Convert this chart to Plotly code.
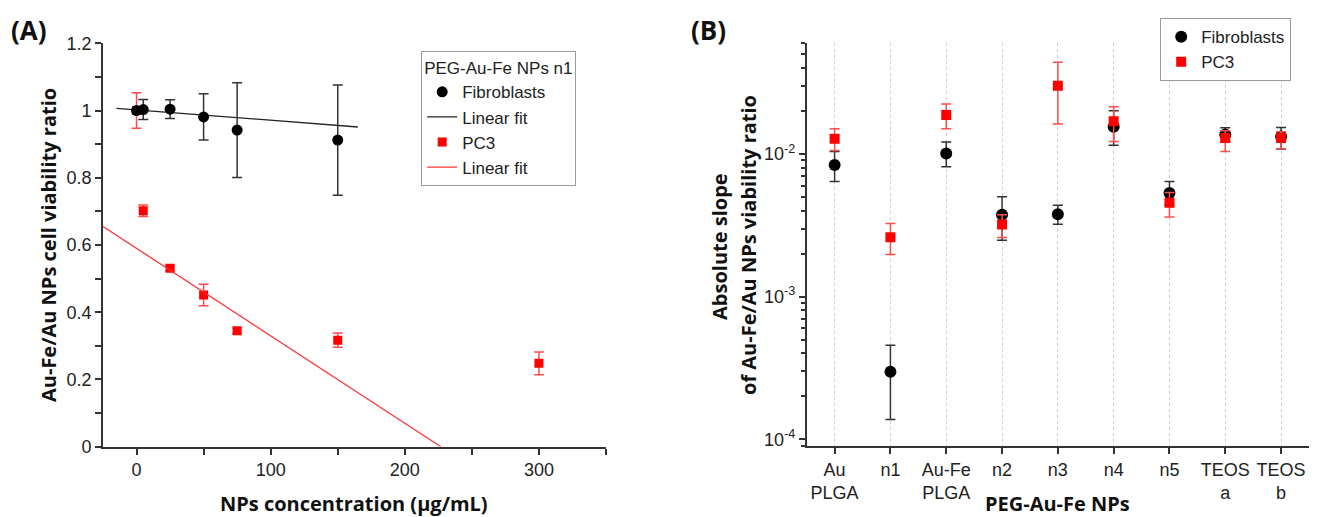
import numpy as np
import plotly.graph_objects as go

W, H = 1319, 517

# ---------------- Panel A data ----------------
conc_fib = [0, 5, 25, 50, 75, 150]
via_fib = [1.000, 1.003, 1.004, 0.981, 0.942, 0.912]
err_fib = [0.0, 0.030, 0.028, 0.069, 0.141, 0.164]

conc_pc3 = [0, 5, 25, 50, 75, 150, 300]
via_pc3 = [1.000, 0.702, 0.531, 0.451, 0.345, 0.317, 0.248]
err_pc3 = [0.053, 0.017, 0.008, 0.032, 0.008, 0.021, 0.034]

# linear fits (slope, intercept, x-extent)
fib_fit_slope, fib_fit_intercept, fib_fit_x = -3.09e-4, 1.002, [-15, 165]
pc3_fit_slope, pc3_fit_intercept, pc3_fit_x = -2.60e-3, 0.590, [-25, 226.9]

# ---------------- Panel B data ----------------
categories = ["Au<br>PLGA", "n1", "Au-Fe<br>PLGA", "n2", "n3", "n4", "n5", "TEOS<br>a", "TEOS<br>b"]
slope_fib = [8.34e-3, 2.98e-4, 1.005e-2, 3.75e-3, 3.77e-3, 1.55e-2, 5.32e-3, 1.365e-2, 1.32e-2]
slope_fib_hi = [1.038e-2, 4.57e-4, 1.21e-2, 5.01e-3, 4.36e-3, 2.00e-2, 6.41e-3, 1.52e-2, 1.53e-2]
slope_fib_lo = [6.41e-3, 1.38e-4, 8.11e-3, 2.48e-3, 3.21e-3, 1.15e-2, 4.40e-3, 1.22e-2, 1.08e-2]
slope_pc3 = [1.274e-2, 2.61e-3, 1.87e-2, 3.20e-3, 3.00e-2, 1.69e-2, 4.55e-3, 1.29e-2, 1.29e-2]
slope_pc3_hi = [1.50e-2, 3.25e-3, 2.23e-2, 3.75e-3, 4.38e-2, 2.14e-2, 5.37e-3, 1.45e-2, 1.43e-2]
slope_pc3_lo = [1.055e-2, 1.97e-3, 1.50e-2, 2.59e-3, 1.62e-2, 1.22e-2, 3.61e-3, 1.04e-2, 1.08e-2]

BLACK = "#000000"
RED = "#ff0000"
AXIS = "#333333"
TICKFONT = dict(family="Arial, Liberation Sans", size=18, color="#222222")
TITLEFONT = dict(family="Open Sans", size=20, color="#111111")
LEGFONT = dict(family="Arial, Liberation Sans", size=17, color="#222222")


def px(x):
    return x / W


def py(y):
    return 1 - y / H


fig = go.Figure()

# ---- Panel A traces ----
fig.add_trace(go.Scatter(
    x=conc_pc3, y=via_pc3, mode="markers", name="PC3", legend="legend", legendrank=3,
    marker=dict(symbol="square", size=9, color=RED),
    error_y=dict(type="data", array=err_pc3, color="#ff4d4d", thickness=1.5, width=5),
    xaxis="x", yaxis="y"))
fx = np.array(pc3_fit_x)
fig.add_trace(go.Scatter(
    x=fx, y=pc3_fit_slope * fx + pc3_fit_intercept, mode="lines", name="Linear fit",
    legend="legend", legendrank=4, line=dict(color="#ff3333", width=1.3),
    xaxis="x", yaxis="y"))
fx = np.array(fib_fit_x)
fig.add_trace(go.Scatter(
    x=fx, y=fib_fit_slope * fx + fib_fit_intercept, mode="lines", name="Linear fit",
    legend="legend", legendrank=2, line=dict(color="#222222", width=1.3),
    xaxis="x", yaxis="y"))
fig.add_trace(go.Scatter(
    x=conc_fib, y=via_fib, mode="markers", name="Fibroblasts", legend="legend", legendrank=1,
    marker=dict(symbol="circle", size=11, color=BLACK),
    error_y=dict(type="data", array=err_fib, color="#333333", thickness=1.5, width=5),
    xaxis="x", yaxis="y"))

# ---- Panel B traces ----
fib_plus = [h - v for h, v in zip(slope_fib_hi, slope_fib)]
fib_minus = [v - l for l, v in zip(slope_fib_lo, slope_fib)]
pc3_plus = [h - v for h, v in zip(slope_pc3_hi, slope_pc3)]
pc3_minus = [v - l for l, v in zip(slope_pc3_lo, slope_pc3)]

fig.add_trace(go.Scatter(
    x=categories, y=slope_fib, mode="markers", name="Fibroblasts", legend="legend2",
    marker=dict(symbol="circle", size=12, color=BLACK),
    error_y=dict(type="data", symmetric=False, array=fib_plus, arrayminus=fib_minus,
                 color="#333333", thickness=1.5, width=5),
    xaxis="x2", yaxis="y2"))
fig.add_trace(go.Scatter(
    x=categories, y=slope_pc3, mode="markers", name="PC3", legend="legend2",
    marker=dict(symbol="square", size=10, color=RED),
    error_y=dict(type="data", symmetric=False, array=pc3_plus, arrayminus=pc3_minus,
                 color="#ff4d4d", thickness=1.5, width=5),
    xaxis="x2", yaxis="y2"))

# minor tick values for log axis
minor_vals = [k * 10.0 ** d for d in range(-5, -1) for k in range(2, 10)]

axis_common = dict(showline=True, linecolor=AXIS, linewidth=1.8, ticks="outside",
                   tickcolor=AXIS, tickwidth=1.5, ticklen=6, tickfont=TICKFONT,
                   zeroline=False, automargin=False)

fig.update_layout(
    width=W, height=H, margin=dict(l=0, r=0, t=0, b=0),
    paper_bgcolor="white", plot_bgcolor="white", showlegend=True,
    xaxis=dict(domain=[px(103), px(606)], range=[-25, 350], tickvals=[0, 100, 200, 300],
               minor=dict(tickvals=[50, 150, 250, 350], ticks="outside", ticklen=6,
                          tickcolor=AXIS, tickwidth=1.5),
               anchor="y", showgrid=False, **axis_common),
    yaxis=dict(domain=[py(446.7), py(43.3)], range=[0, 1.2], dtick=0.2, tick0=0,
               minor=dict(dtick=0.1, tick0=0, ticks="outside", ticklen=6,
                          tickcolor=AXIS, tickwidth=1.5),
               anchor="x", showgrid=False, **axis_common),
    xaxis2=dict(domain=[px(806.7), px(1309)], range=[-0.5, 8.5], type="category",
                showgrid=True, gridcolor="#cfcfcf", griddash="dot", gridwidth=1,
                anchor="y2", **axis_common),
    yaxis2=dict(domain=[py(446), py(42.7)], type="log",
                range=[np.log10(9e-5), np.log10(6e-2)],
                tickvals=[1e-4, 1e-3, 1e-2],
                ticktext=["10<sup>-4</sup>", "10<sup>-3</sup>", "10<sup>-2</sup>"],
                minor=dict(tickvals=minor_vals, ticks="outside", ticklen=4,
                           tickcolor=AXIS, tickwidth=1.5),
                anchor="x2", showgrid=False, **axis_common),
    legend=dict(x=px(421), y=py(51), xanchor="left", yanchor="top",
                bgcolor="white", bordercolor="#9a9a9a", borderwidth=1.2,
                font=LEGFONT, title=dict(text="PEG-Au-Fe NPs n1", font=LEGFONT),
                traceorder="normal", itemwidth=30),
    legend2=dict(x=px(1160), y=py(18), xanchor="left", yanchor="top",
                 bgcolor="white", bordercolor="#9a9a9a", borderwidth=1.2,
                 font=LEGFONT, traceorder="normal", itemwidth=30),
)

annotations = [
    dict(text="<b>(A)</b>", x=px(29), y=py(30), font=dict(family="Open Sans", size=26, color="#111")),
    dict(text="<b>(B)</b>", x=px(708), y=py(30), font=dict(family="Open Sans", size=26, color="#111")),
    dict(text="<b>Au-Fe/Au NPs cell viability ratio</b>", x=px(48), y=py(245), textangle=-90, font=TITLEFONT),
    dict(text="<b>NPs concentration (\u03bcg/mL)</b>", x=px(354), y=py(503), font=TITLEFONT),
    dict(text="<b>Absolute slope</b>", x=px(719), y=py(247), textangle=-90, font=TITLEFONT),
    dict(text="<b>of Au-Fe/Au NPs viability ratio</b>", x=px(748), y=py(245), textangle=-90, font=TITLEFONT),
    dict(text="<b>PEG-Au-Fe NPs</b>", x=px(1057), y=py(503), font=TITLEFONT),
]
for a in annotations:
    a.update(xref="paper", yref="paper", showarrow=False, xanchor="center", yanchor="middle")
fig.update_layout(annotations=annotations)

fig.write_html("out.html", config={"displayModeBar": False},
               post_script="document.body.style.margin='0';")
